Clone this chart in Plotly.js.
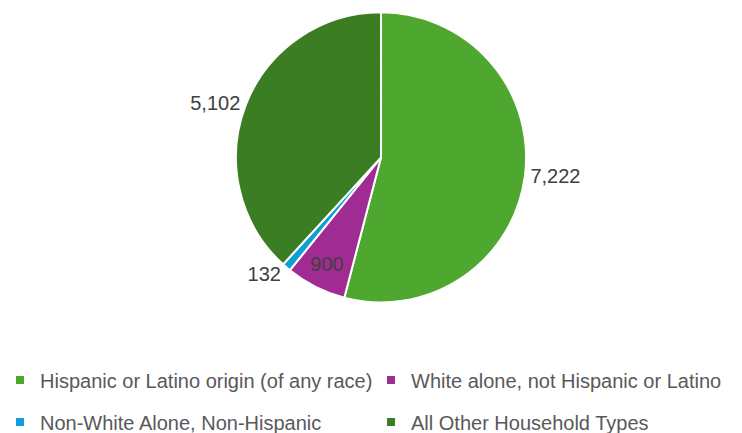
<!DOCTYPE html>
<html><head><meta charset="utf-8">
<script src="https://cdn.plot.ly/plotly-3.0.1.min.js"></script>
<style>html,body{margin:0;padding:0;background:#fff}</style>
</head><body>
<div id="chart" style="width:742px;height:433px"></div>
<script>
const categories = ["Hispanic or Latino origin (of any race)", "White alone, not Hispanic or Latino", "Non-White Alone, Non-Hispanic", "All Other Household Types"];
const values = [7222, 900, 132, 5102];
const colors = ["#4EA72E", "#A02B93", "#0F9ED5", "#3B7D23"];
const textPositions = ["outside", "inside", "outside", "outside"];
const legendIds = ["legend", "legend2", "legend3", "legend4"];

const pie = {
  type: "pie",
  labels: categories,
  values: values,
  sort: false,
  direction: "clockwise",
  rotation: 0,
  marker: {colors: colors, line: {color: "#ffffff", width: 2}},
  textinfo: "value",
  texttemplate: "%{value:,}",
  textposition: textPositions,
  textfont: {family: "Liberation Sans, Arial, sans-serif", size: 20, color: "#404040"},
  insidetextfont: {color: "#404040"},
  outsidetextfont: {color: "#404040"},
  domain: {x: [0.318, 0.709], y: [0.155, 0.972]},
  showlegend: false,
  hoverinfo: "label+value",
  automargin: false
};

// legend entries (one per category), laid out in a 2x2 grid like the reference
const legendTraces = categories.map((name, i) => ({
  type: "scatter", mode: "markers",
  x: [null], y: [null],
  name: name,
  legend: legendIds[i],
  marker: {symbol: "square", size: 8, color: colors[i]},
  showlegend: true, hoverinfo: "skip"
}));

const legendFont = {family: "Liberation Sans, Arial, sans-serif", size: 20, color: "#595959"};
function legendAt(x, y) {
  return {orientation: "h", x: x, y: y, xref: "container", yref: "container",
          xanchor: "left", yanchor: "middle",
          font: legendFont, bgcolor: "rgba(0,0,0,0)", borderwidth: 0};
}
const layout = {
  width: 742, height: 433,
  margin: {l: 0, r: 0, t: 0, b: 0},
  paper_bgcolor: "#ffffff",
  plot_bgcolor: "#ffffff",
  xaxis: {visible: false},
  yaxis: {visible: false},
  showlegend: true,
  legend: legendAt(-0.012, 0.1224),
  legend2: legendAt(0.5, 0.1224),
  legend3: legendAt(-0.012, 0.0254),
  legend4: legendAt(0.5, 0.0254)
};
Plotly.newPlot("chart", [pie].concat(legendTraces), layout, {displayModeBar: false, staticPlot: true});
</script>
</body></html>
